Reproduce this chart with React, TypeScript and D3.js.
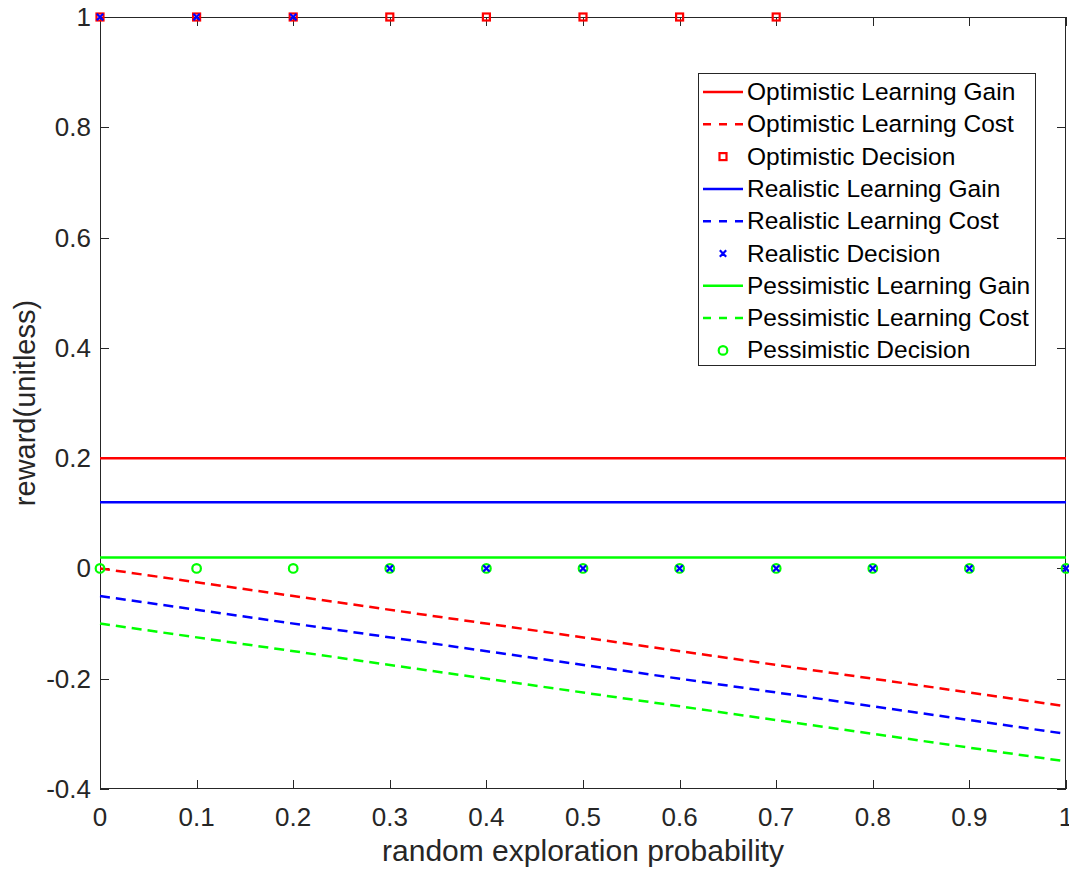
import React from "react";
import * as d3 from "d3";

// Sampling points along the x axis (random exploration probability)
const probs = [0, 0.1, 0.2, 0.3, 0.4, 0.5, 0.6, 0.7, 0.8, 0.9, 1];

// Constant learning gains
const optimisticGain = [0.2, 0.2];
const realisticGain = [0.12, 0.12];
const pessimisticGain = [0.02, 0.02];
const gainX = [0, 1];

// Learning costs (linear in probability)
const optimisticCost = [0, -0.25];
const realisticCost = [-0.05, -0.3];
const pessimisticCost = [-0.1, -0.35];
const costX = [0, 1];

// Decisions at each probability sample
const optimisticDecisionX = [0, 0.1, 0.2, 0.3, 0.4, 0.5, 0.6, 0.7];
const optimisticDecision = [1, 1, 1, 1, 1, 1, 1, 1];
const realisticDecision = [1, 1, 1, 0, 0, 0, 0, 0, 0, 0, 0];
const pessimisticDecision = [0, 0, 0, 0, 0, 0, 0, 0, 0, 0, 0];

const xTicks = [0, 0.1, 0.2, 0.3, 0.4, 0.5, 0.6, 0.7, 0.8, 0.9, 1];
const yTicks = [-0.4, -0.2, 0, 0.2, 0.4, 0.6, 0.8, 1];

const legendItems = [
  { label: "Optimistic Learning Gain", color: "#ff0000", kind: "solid" },
  { label: "Optimistic Learning Cost", color: "#ff0000", kind: "dash" },
  { label: "Optimistic Decision", color: "#ff0000", kind: "square" },
  { label: "Realistic Learning Gain", color: "#0000ff", kind: "solid" },
  { label: "Realistic Learning Cost", color: "#0000ff", kind: "dash" },
  { label: "Realistic Decision", color: "#0000ff", kind: "cross" },
  { label: "Pessimistic Learning Gain", color: "#00ff00", kind: "solid" },
  { label: "Pessimistic Learning Cost", color: "#00ff00", kind: "dash" },
  { label: "Pessimistic Decision", color: "#00ff00", kind: "circle" },
];

const W = 1069;
const H = 871;
const L = 100;
const R = 1066;
const T = 17;
const B = 789;
const FONT = "'Liberation Sans', Arial, Helvetica, sans-serif";
const AXIS = "#262626";
const DASH = "10 6";
const LW = 2.5;

// plain hyphen-minus tick labels
const fmt = (v: number) => String(+v.toFixed(2));

function Marker({ kind, x, y, color }: { kind: string; x: number; y: number; color: string }) {
  if (kind === "square") {
    return <rect x={x - 3.5} y={y - 3.5} width={7} height={7} fill="none" stroke={color} strokeWidth={2.2} />;
  }
  if (kind === "circle") {
    return <circle cx={x} cy={y} r={4.3} fill="none" stroke={color} strokeWidth={2.2} />;
  }
  if (kind === "cross") {
    const s = 3.2;
    return (
      <path d={`M${x - s},${y - s}L${x + s},${y + s}M${x - s},${y + s}L${x + s},${y - s}`} stroke={color} strokeWidth={2.2} fill="none" />
    );
  }
  return null;
}

export default function App() {
  const x = d3.scaleLinear().domain([0, 1]).range([L, R]);
  const y = d3.scaleLinear().domain([-0.4, 1]).range([B, T]);
  const line = d3
    .line<[number, number]>()
    .x((d) => x(d[0]))
    .y((d) => y(d[1]));
  const zip = (xs: number[], ys: number[]) => xs.map((v, i) => [v, ys[i]] as [number, number]);

  const lines = [
    { d: zip(gainX, optimisticGain), c: "#ff0000", dash: undefined },
    { d: zip(costX, optimisticCost), c: "#ff0000", dash: DASH },
    { d: zip(gainX, realisticGain), c: "#0000ff", dash: undefined },
    { d: zip(costX, realisticCost), c: "#0000ff", dash: DASH },
    { d: zip(gainX, pessimisticGain), c: "#00ff00", dash: undefined },
    { d: zip(costX, pessimisticCost), c: "#00ff00", dash: DASH },
  ];

  const lx = 698;
  const ly = 73;
  const lw = 337;
  const lh = 292;
  const rowH = 32.3;

  return (
    <svg width={W} height={H} style={{ position: "absolute", left: 0, top: 0, background: "#fff" }} fontFamily={FONT}>
      <rect x={0} y={0} width={W} height={H} fill="#fff" />
      <defs>
        <clipPath id="plotClip">
          <rect x={L - 6} y={T - 6} width={R - L + 12} height={B - T + 12} />
        </clipPath>
      </defs>

      {/* axes box */}
      <rect x={L + 0.5} y={T + 0.5} width={R - L - 1} height={B - T - 1} fill="none" stroke={AXIS} strokeWidth={1} />

      {/* x ticks (bottom and top, pointing inward) */}
      {xTicks.map((t) => (
        <g key={`xt${t}`}>
          <line x1={Math.round(x(t)) + 0.5} x2={Math.round(x(t)) + 0.5} y1={B} y2={B - 9} stroke={AXIS} />
          <line x1={Math.round(x(t)) + 0.5} x2={Math.round(x(t)) + 0.5} y1={T} y2={T + 9} stroke={AXIS} />
          <text x={x(t)} y={826} textAnchor="middle" fontSize={26} fill={AXIS}>
            {fmt(t)}
          </text>
        </g>
      ))}

      {/* y ticks (left and right, pointing inward) */}
      {yTicks.map((t) => (
        <g key={`yt${t}`}>
          <line x1={L} x2={L + 9} y1={Math.round(y(t)) + 0.5} y2={Math.round(y(t)) + 0.5} stroke={AXIS} />
          <line x1={R} x2={R - 9} y1={Math.round(y(t)) + 0.5} y2={Math.round(y(t)) + 0.5} stroke={AXIS} />
          <text x={91} y={y(t) + 9} textAnchor="end" fontSize={26} fill={AXIS}>
            {fmt(t)}
          </text>
        </g>
      ))}

      <text x={(L + R) / 2} y={861} textAnchor="middle" fontSize={30} fill={AXIS}>
        random exploration probability
      </text>
      <text transform={`translate(35,${(T + B) / 2}) rotate(-90)`} textAnchor="middle" fontSize={29} fill={AXIS}>
        reward(unitless)
      </text>

      <g clipPath="url(#plotClip)">
        {lines.map((l, i) => (
          <path key={i} d={line(l.d) || ""} fill="none" stroke={l.c} strokeWidth={LW} strokeDasharray={l.dash} />
        ))}
        {optimisticDecisionX.map((p, i) => (
          <Marker key={`o${i}`} kind="square" x={x(p)} y={y(optimisticDecision[i])} color="#ff0000" />
        ))}
        {probs.map((p, i) => (
          <Marker key={`p${i}`} kind="circle" x={x(p)} y={y(pessimisticDecision[i])} color="#00ff00" />
        ))}
        {probs.map((p, i) => (
          <Marker key={`r${i}`} kind="cross" x={x(p)} y={y(realisticDecision[i])} color="#0000ff" />
        ))}
      </g>

      {/* legend */}
      <rect x={lx + 0.5} y={ly + 0.5} width={lw} height={lh} fill="#fff" stroke={AXIS} strokeWidth={1} />
      {legendItems.map((it, i) => {
        const cy = ly + 19 + i * rowH;
        return (
          <g key={it.label}>
            {it.kind === "solid" && <line x1={703} x2={743} y1={cy} y2={cy} stroke={it.color} strokeWidth={LW} />}
            {it.kind === "dash" && (
              <line x1={703} x2={743} y1={cy} y2={cy} stroke={it.color} strokeWidth={LW} strokeDasharray="8 8" />
            )}
            {(it.kind === "square" || it.kind === "cross" || it.kind === "circle") && (
              <Marker kind={it.kind} x={723} y={cy} color={it.color} />
            )}
            <text x={747} y={cy + 8} fontSize={24.5} fill="#000">
              {it.label}
            </text>
          </g>
        );
      })}
    </svg>
  );
}
